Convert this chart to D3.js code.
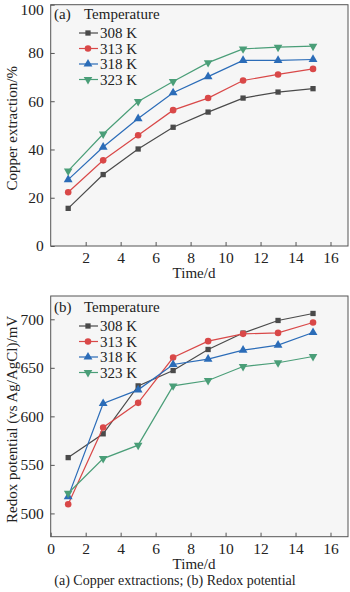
<!DOCTYPE html>
<html>
<head>
<meta charset="utf-8">
<script src="https://cdn.jsdelivr.net/npm/d3@7"></script>
<style>
  body { margin: 0; background: #fff; }
  svg text { font-family: "Liberation Serif", "Times New Roman", serif; fill: #222; }
</style>
</head>
<body>
<div id="chart"></div>
<script>
const days = [1, 3, 5, 7, 9, 11, 13, 15];
const temps = ['308 K', '313 K', '318 K', '323 K'];
const colors = ['#4a4a4a', '#d94848', '#2b6cb8', '#4a9e78'];
const shapes = [d3.symbolSquare, d3.symbolCircle, d3.symbolTriangle, 'down'];

const extraction = [
    [15.6, 29.6, 40.2, 49.2, 55.5, 61.3, 63.8, 65.2],
    [22.3, 35.5, 45.9, 56.3, 61.3, 68.6, 71.1, 73.4],
    [27.5, 41.0, 52.8, 63.5, 70.2, 76.9, 76.9, 77.3],
    [31.1, 46.4, 59.9, 68.2, 76.0, 81.7, 82.4, 82.8]
];
const redox = [
    [557.5, 582, 631.4, 647.2, 668.9, 685.8, 698.8, 706],
    [509.5, 588.5, 613.9, 660.6, 677.5, 685, 686, 696.7],
    [517.3, 613.2, 627.3, 653.4, 659, 668.2, 673.4, 686.4],
    [520.8, 556.5, 570.3, 631.4, 636.9, 651.3, 655.2, 661.7]
];

const xTicksA = [2, 4, 6, 8, 10, 12, 14, 16];
const xTicksB = [0, 2, 4, 6, 8, 10, 12, 14, 16];
const yTicksA = [0, 20, 40, 60, 80, 100];
const yTicksB = [500, 550, 600, 650, 700];

const W = 350, H = 592;
const svg = d3.select('#chart').append('svg').attr('width', W).attr('height', H);

function marker(g, i, x, y) {
    const s = shapes[i];
    if (s === 'down') {
        g.append('path').attr('d', d3.symbol().type(d3.symbolTriangle).size(32)())
            .attr('transform', `translate(${x},${y}) rotate(180)`).attr('fill', colors[i]);
    } else {
        const size = s === d3.symbolSquare ? 28 : 34;
        g.append('path').attr('d', d3.symbol().type(s).size(size)())
            .attr('transform', `translate(${x},${y})`).attr('fill', colors[i]);
    }
}

function panel(opt) {
    const { top, bottom, yDomain, yTicks, xTicks, series, tag, ylabel, legendY } = opt;
    const left = 50.7, right = 348;
    const x = d3.scaleLinear().domain([0, 17]).range([left, right]);
    const y = d3.scaleLinear().domain(yDomain).range([bottom, top]);
    const g = svg.append('g');

    g.append('rect').attr('x', left).attr('y', top).attr('width', right - left).attr('height', bottom - top)
        .attr('fill', '#f6f6f6').attr('stroke', '#555').attr('stroke-width', 1);

    const xa = g.append('g').attr('transform', `translate(0,${bottom})`)
        .call(d3.axisBottom(x).tickValues(xTicks).tickSizeInner(-4).tickSizeOuter(0).tickPadding(6));
    const ya = g.append('g').attr('transform', `translate(${left},0)`)
        .call(d3.axisLeft(y).tickValues(yTicks).tickSizeInner(-4).tickSizeOuter(0).tickPadding(7));
    [xa, ya].forEach(a => {
        a.select('.domain').remove();
        a.selectAll('line').attr('stroke', '#555');
        a.selectAll('text').style('font-size', '15.5px').attr('fill', '#222');
    });
    // keep the top tick label inside the picture
    ya.selectAll('text').filter(d => d === 100).attr('dy', '0.62em');

    g.append('text').attr('x', 194).attr('y', bottom + 32).attr('text-anchor', 'middle')
        .style('font-size', '15px').text('Time/d');
    g.append('text').attr('transform', `translate(17,${(top + bottom) / 2 + 3}) rotate(-90)`)
        .attr('text-anchor', 'middle').style('font-size', '15px').text(ylabel);

    const line = d3.line().x((d, j) => x(days[j])).y(d => y(d));
    series.forEach((s, i) => {
        g.append('path').datum(s).attr('d', line).attr('fill', 'none')
            .attr('stroke', colors[i]).attr('stroke-width', 1.2);
        s.forEach((v, j) => marker(g, i, x(days[j]), y(v)));
    });

    g.append('text').attr('x', 54).attr('y', legendY).style('font-size', '15px').text(tag);
    g.append('text').attr('x', 84).attr('y', legendY).style('font-size', '15px').text('Temperature');
    temps.forEach((t, i) => {
        const ly = legendY + 14 + i * 15.5;
        g.append('line').attr('x1', 79).attr('x2', 98).attr('y1', ly).attr('y2', ly)
            .attr('stroke', colors[i]).attr('stroke-width', 1.2);
        marker(g, i, 88, ly);
        g.append('text').attr('x', 100).attr('y', ly + 5).style('font-size', '15px').text(t);
    });
}

panel({ top: 4.7, bottom: 246, yDomain: [0, 100], yTicks: yTicksA, xTicks: xTicksA,
    series: extraction, tag: '(a)', ylabel: 'Copper extraction/%', legendY: 19 });
panel({ top: 296, bottom: 536.7, yDomain: [476, 724], yTicks: yTicksB, xTicks: xTicksB,
    series: redox, tag: '(b)', ylabel: 'Redox potential (vs Ag/AgCl)/mV', legendY: 312 });

svg.append('text').attr('x', 175).attr('y', 585).attr('text-anchor', 'middle')
    .style('font-size', '14px').text('(a) Copper extractions; (b) Redox potential');
</script>
</body>
</html>
